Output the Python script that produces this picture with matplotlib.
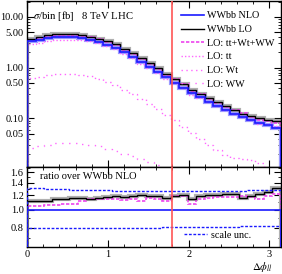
import numpy as np
import matplotlib
matplotlib.use('Agg')
import matplotlib.pyplot as plt
from matplotlib.ticker import FixedLocator, FixedFormatter, NullFormatter
from matplotlib.lines import Line2D

# ---------------- data ----------------
x_max = np.pi
n_bins = 30
edges = np.linspace(0, x_max, n_bins + 1)

nlo = [3.35, 3.55, 3.85, 4.00, 4.05, 3.95, 3.80, 3.55, 3.20, 2.80,
       2.42, 2.00, 1.62, 1.30, 1.03, 0.82, 0.64, 0.50, 0.40, 0.32,
       0.26, 0.21, 0.175, 0.145, 0.122, 0.105, 0.092, 0.082, 0.074, 0.066]
lo = [3.72, 3.98, 4.31, 4.56, 4.66, 4.58, 4.41, 4.08, 3.71, 3.28,
      2.86, 2.36, 1.93, 1.56, 1.22, 0.98, 0.74, 0.595, 0.484, 0.365,
      0.309, 0.252, 0.21, 0.177, 0.149, 0.122, 0.110, 0.100, 0.0925, 0.087]
lo_ttwtww = [3.52, 3.73, 4.08, 4.24, 4.33, 4.27, 4.26, 4.08, 3.68, 3.19,
             2.78, 2.26, 1.86, 1.456, 1.195, 0.943, 0.717, 0.595, 0.476, 0.342,
             0.296, 0.244, 0.205, 0.171, 0.143, 0.125, 0.1086, 0.0935, 0.088, 0.080]
lo_tt = [2.87, 3.04, 3.34, 3.47, 3.55, 3.49, 3.51, 3.38, 3.04, 2.64,
         2.31, 1.87, 1.55, 1.20, 0.99, 0.78, 0.59, 0.49, 0.40, 0.283,
         0.25, 0.209, 0.176, 0.148, 0.123, 0.106, 0.091, 0.078, 0.076, 0.070]
lo_wt = [0.62, 0.66, 0.71, 0.74, 0.75, 0.74, 0.71, 0.67, 0.61, 0.53,
         0.45, 0.37, 0.30, 0.24, 0.19, 0.15, 0.115, 0.092, 0.068, 0.052,
         0.040, 0.030, 0.024, 0.019, 0.0165, 0.0158, 0.0152, 0.013, 0.010, 0.008]
lo_ww = [0.026, 0.028, 0.030, 0.032, 0.0325, 0.032, 0.031, 0.030, 0.028, 0.025,
         0.023, 0.020, 0.018, 0.016, 0.014, 0.012, 0.0105, 0.009, 0.008, 0.007,
         0.006, 0.005, 0.0045, 0.004, 0.0035, 0.003, 0.0028, 0.0025, 0.0022, 0.002]
scale_up = [1.31, 1.31, 1.30, 1.30, 1.30, 1.29, 1.29, 1.28, 1.28, 1.28,
            1.27, 1.27, 1.27, 1.27, 1.26, 1.26, 1.26, 1.26, 1.26, 1.26,
            1.26, 1.27, 1.27, 1.27, 1.27, 1.27, 1.28, 1.28, 1.28, 1.29]
scale_dn = [0.80, 0.80, 0.80, 0.80, 0.80, 0.80, 0.80, 0.80, 0.80, 0.80,
            0.80, 0.80, 0.80, 0.80, 0.80, 0.80, 0.81, 0.81, 0.81, 0.81,
            0.81, 0.81, 0.81, 0.81, 0.81, 0.82, 0.82, 0.82, 0.82, 0.82]
cut_value = 1.79

main_yticks = [0.05, 0.1, 0.5, 1.0, 5.0, 10.0]
main_ylabels = ['0.05', '0.10', '0.50', '1.00', '5.00', '10.00']
ratio_yticks = [0.8, 1.0, 1.2, 1.4, 1.6]
ratio_ylabels = ['0.8', '1.0', '1.2', '1.4', '1.6']
xticks = [0, 1, 2, 3]

# ---------------- style ----------------
BLUE = '#1a1aff'
LBLUE = '#9a9aff'
MAG = '#ee44ee'
PINK = '#ff66ff'
RED = '#ff5555'
FONT = ['Liberation Serif', 'DejaVu Serif']
fs = 7.3

plt.rcParams['font.family'] = FONT
plt.rcParams['font.size'] = fs
plt.rcParams['mathtext.fontset'] = 'stix'

fig = plt.figure(figsize=(2.82, 2.74), dpi=100)
L, R = 0.096, 0.996
ax = fig.add_axes([L, 0.392, R - L, 0.604])
axr = fig.add_axes([L, 0.100, R - L, 0.292], sharex=ax)

nlo_a = np.array(nlo)
lo_a = np.array(lo)
tw_a = np.array(lo_ttwtww)

# main panel
ax.stairs(lo, edges, color='#b0b0b0', lw=3.0, zorder=2)
ax.stairs(nlo, edges, color=LBLUE, lw=3.0, zorder=2)
ax.stairs(lo_ww, edges, color=PINK, lw=1.0, ls=(0, (1, 4)), zorder=3)
ax.stairs(lo_wt, edges, color=PINK, lw=1.0, ls=(0, (1, 2.5)), zorder=3)
ax.stairs(lo_tt, edges, color=PINK, lw=1.0, ls=(0, (1, 1.5)), zorder=3)
ax.stairs(lo_ttwtww, edges, color=MAG, lw=1.2, ls=(0, (2, 1)), zorder=4)
ax.stairs(lo, edges, color='black', lw=1.0, zorder=5)
ax.stairs(nlo, edges, color=BLUE, lw=1.2, zorder=6, baseline=1e-6)
ax.axvline(cut_value, color=RED, lw=1.2, zorder=7)

ax.set_yscale('log')
ax.set_ylim(0.0112, 20.5)
ax.set_xlim(0, x_max)
ax.yaxis.set_major_locator(FixedLocator(main_yticks))
ax.yaxis.set_major_formatter(FixedFormatter(main_ylabels))
ax.yaxis.set_minor_formatter(NullFormatter())
ax.text(0.025, 0.955, r'$\sigma$/bin [fb]   8 TeV LHC', transform=ax.transAxes,
        ha='left', va='top', fontsize=fs + 0.4)

handles = [
    Line2D([], [], color=BLUE, lw=1.2),
    Line2D([], [], color='black', lw=1.0),
    Line2D([], [], color=MAG, lw=1.2, ls=(0, (2, 1))),
    Line2D([], [], color=PINK, lw=1.0, ls=(0, (1, 1.5))),
    Line2D([], [], color=PINK, lw=1.0, ls=(0, (1, 2.5))),
    Line2D([], [], color=PINK, lw=1.0, ls=(0, (1, 4))),
]
labels = ['WWbb NLO', 'WWbb LO', 'LO: tt+Wt+WW', 'LO: tt', 'LO: Wt', 'LO: WW']
leg = ax.legend(handles, labels, loc='upper right', bbox_to_anchor=(1.0, 0.975),
                frameon=False, fontsize=fs, handlelength=2.3, handletextpad=0.35,
                labelspacing=0.45, borderaxespad=0.2)

# ratio panel
axr.stairs(lo_a / nlo_a, edges, color='#b0b0b0', lw=3.0, zorder=2)
axr.stairs(tw_a / nlo_a, edges, color=MAG, lw=1.2, ls=(0, (2, 1)), zorder=3)
axr.stairs(lo_a / nlo_a, edges, color='black', lw=1.0, zorder=4)
axr.stairs(nlo_a / nlo_a, edges, color=BLUE, lw=1.2, zorder=5)
axr.stairs(scale_up, edges, color=BLUE, lw=1.0, ls=(0, (2, 1.2)), zorder=5)
axr.stairs(scale_dn, edges, color=BLUE, lw=1.0, ls=(0, (2, 1.2)), zorder=5)
axr.axvline(cut_value, color=RED, lw=1.2, zorder=7)
axr.set_yscale('log')
axr.set_ylim(0.63, 1.72)
axr.yaxis.set_major_locator(FixedLocator(ratio_yticks))
axr.yaxis.set_major_formatter(FixedFormatter(ratio_ylabels))
axr.yaxis.set_minor_locator(FixedLocator([0.7, 0.9, 1.1, 1.3, 1.5, 1.7]))
axr.yaxis.set_minor_formatter(NullFormatter())
axr.text(0.05, 0.93, 'ratio over WWbb NLO', transform=axr.transAxes,
         ha='left', va='top', fontsize=fs + 0.2)
axr.legend([Line2D([], [], color=BLUE, lw=1.0, ls=(0, (2, 1.2)))], ['scale unc.'],
           loc='lower right', bbox_to_anchor=(0.91, 0.0), frameon=False, fontsize=fs,
           handlelength=2.3, handletextpad=0.35, borderaxespad=0.3)

axr.xaxis.set_major_locator(FixedLocator(xticks))
axr.xaxis.set_minor_locator(FixedLocator(np.arange(0.2, 3.15, 0.2)))
plt.setp(ax.get_xticklabels(), visible=False)

for a in (ax, axr):
    a.tick_params(which='both', direction='in', top=True, right=True, labelsize=fs + 0.2)
    a.tick_params(which='major', length=5, width=0.8, pad=2.5)
    a.tick_params(which='minor', length=2.5, width=0.6)
    for s in a.spines.values():
        s.set_linewidth(1.0)

fig.text(262 / 282, 1 - 267 / 274, r'$\Delta\phi_{ll}$', ha='center', va='center',
         fontsize=fs + 0.5)

fig.savefig('out.png', dpi=100)
